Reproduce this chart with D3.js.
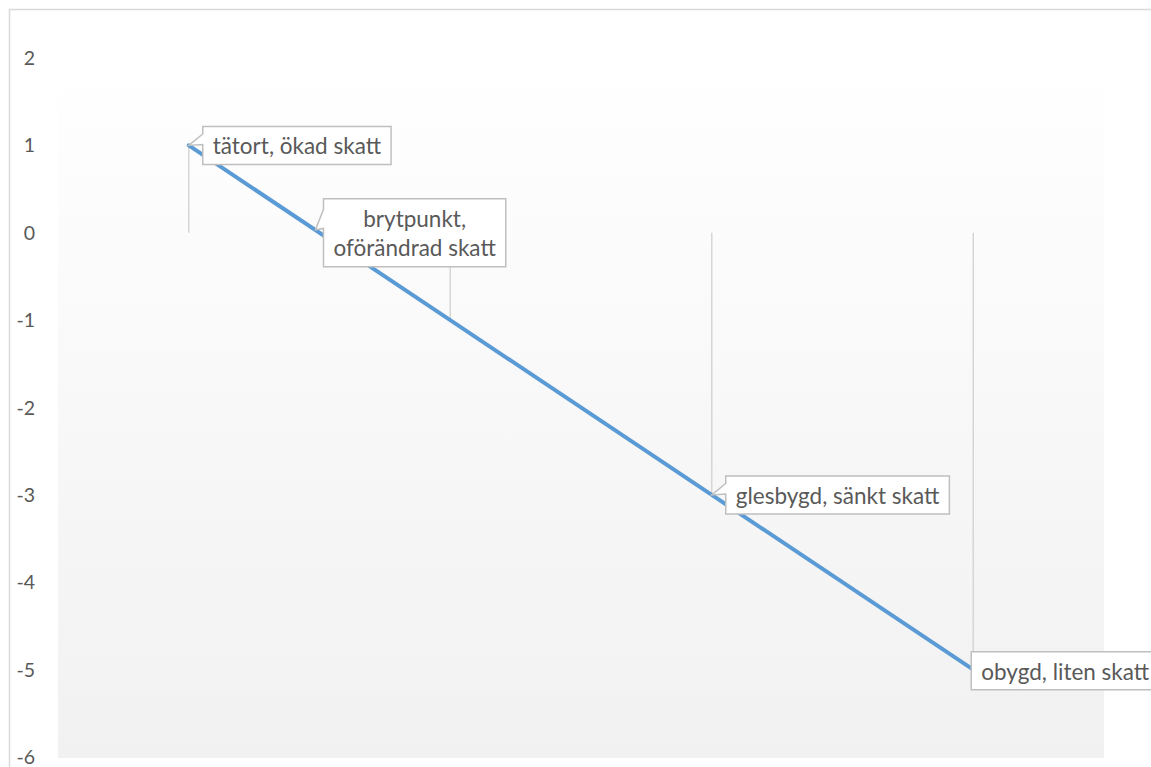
<!DOCTYPE html>
<html lang="sv">
<head>
<meta charset="utf-8">
<title>Skatt</title>
<script src="https://cdnjs.cloudflare.com/ajax/libs/d3/7.8.5/d3.min.js"></script>
<style>
  body { margin: 0; background: #fff; }
  text { font-family: Lato, "Open Sans", sans-serif; fill: #595959; }
</style>
</head>
<body>
<script>
// data
var categories = ["tätort", "brytpunkt", "glesbygd", "obygd"];
var values = [1, -1, -3, -5];
var labels = [["tätort, ökad skatt"], ["brytpunkt,", "oförändrad skatt"], ["glesbygd, sänkt skatt"], ["obygd, liten skatt"]];
var yTicks = [2, 1, 0, -1, -2, -3, -4, -5, -6];

var w = 1151, h = 767;
var plotL = 58, plotR = 1104, plotT = 58, plotB = 757;

var svg = d3.select("body").append("svg")
    .attr("width", w)
    .attr("height", h);

// chart border (only top/left visible in the crop)
svg.append("rect")
    .attr("x", 9.5).attr("y", 9.5)
    .attr("width", w + 20).attr("height", h + 20)
    .attr("fill", "#fff")
    .attr("stroke", "#d9d9d9")
    .attr("stroke-width", 1.5);

var grad = svg.append("defs").append("linearGradient")
    .attr("id", "bg").attr("x1", 0).attr("y1", 0).attr("x2", 0).attr("y2", 1);
grad.append("stop").attr("offset", "0%").attr("stop-color", "#ffffff");
grad.append("stop").attr("offset", "100%").attr("stop-color", "#f1f1f1");

var x = d3.scaleBand().domain(categories).range([plotL, plotR]);
var y = d3.scaleLinear().domain([-6, 2]).range([plotB, plotT]);
var cx = function(i) { return x(categories[i]) + x.bandwidth() / 2; };

svg.append("rect")
    .attr("x", plotL).attr("y", plotT)
    .attr("width", plotR - plotL).attr("height", plotB - plotT + 1)
    .attr("fill", "url(#bg)");

// y axis labels
svg.selectAll(".ytick")
    .data(yTicks)
    .enter().append("text")
    .attr("class", "ytick")
    .attr("x", 35)
    .attr("y", function(d) { return y(d); })
    .attr("dy", "0.36em")
    .attr("text-anchor", "end")
    .style("font-size", "19.5px")
    .text(function(d) { return d; });

// drop lines to zero
svg.selectAll(".drop")
    .data(values)
    .enter().append("line")
    .attr("x1", function(d, i) { return cx(i); })
    .attr("x2", function(d, i) { return cx(i); })
    .attr("y1", function(d) { return y(d); })
    .attr("y2", y(0))
    .attr("stroke", "#d6d6d6")
    .attr("stroke-width", 1.5);

var line = d3.line()
    .x(function(d, i) { return cx(i); })
    .y(function(d) { return y(d); });

svg.append("path")
    .datum(values)
    .attr("d", line)
    .attr("fill", "none")
    .attr("stroke", "#5b9bd5")
    .attr("stroke-width", 4)
    .attr("stroke-linecap", "round");

// callout labels: tip point and box offset (left edge, vertical center)
var zeroX = (cx(0) + cx(1)) / 2;
var callouts = [
  { tip: [cx(0), y(values[0])], dx: 14, dy: 0 },
  { tip: [zeroX - 4, y(0) - 3], dx: 8, dy: 3 },
  { tip: [cx(2), y(values[2])], dx: 14, dy: 0 },
  { tip: [cx(3), y(values[3])], dx: -2, dy: 1 }
];

var lineH = 29, padX = 10;
labels.forEach(function(lines, i) {
  var c = callouts[i];
  var g = svg.append("g");
  var box = g.append("path");
  var t = g.append("text").style("font-size", "22.5px").attr("text-anchor", "middle");
  lines.forEach(function(s, k) {
    t.append("tspan").attr("x", 0).attr("dy", k === 0 ? 0 : lineH).text(s);
  });
  var tw = d3.max(t.selectAll("tspan").nodes(), function(n) { return n.getComputedTextLength(); });
  var bw = tw + 2 * padX;
  var bh = 38 + (lines.length - 1) * 30;
  var x0 = c.tip[0] + c.dx, yc = c.tip[1] + c.dy;
  var y0 = yc - bh / 2, x1 = x0 + bw, y1 = y0 + bh;
  t.attr("transform", "translate(" + (x0 + bw / 2) + "," + (y0 + bh / 2 - (lines.length - 1) * lineH / 2) + ")")
    .attr("dominant-baseline", "central");
  var p = d3.path();
  p.moveTo(x0, y0); p.lineTo(x1, y0); p.lineTo(x1, y1); p.lineTo(x0, y1);
  if (c.tip[0] < x0) {
    var wb = Math.min(c.tip[1] - 0.02 * bh, y1 - 2), wt = Math.max(c.tip[1] - 0.3 * bh, y0 + 2);
    p.lineTo(x0, wb); p.lineTo(c.tip[0], c.tip[1]); p.lineTo(x0, wt);
  }
  p.closePath();
  box.attr("d", p.toString())
    .attr("fill", "#fff")
    .attr("stroke", "#bfbfbf")
    .attr("stroke-width", 1.5);
});
</script>
</body>
</html>
